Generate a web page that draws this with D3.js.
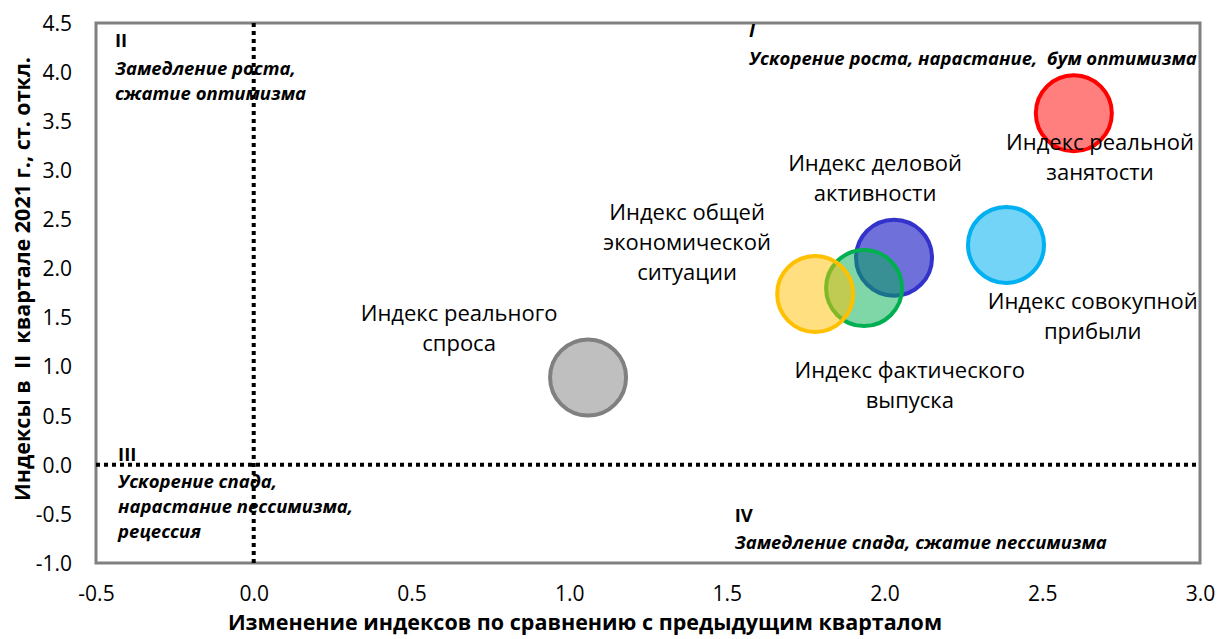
<!DOCTYPE html>
<html>
<head>
<meta charset="utf-8">
<script src="https://cdn.jsdelivr.net/npm/d3@7"></script>
<style>
  body { margin: 0; background: #fff; }
  text { font-family: "Open Sans", "Noto Sans", sans-serif; }
</style>
</head>
<body>
<svg id="chart" width="1227" height="639"></svg>
<script>
// Bubble data
const names = [
  ["Индекс реального", "спроса"],
  ["Индекс общей", "экономической", "ситуации"],
  ["Индекс деловой", "активности"],
  ["Индекс фактического", "выпуска"],
  ["Индекс совокупной", "прибыли"],
  ["Индекс реальной", "занятости"]
];
const xValues = [1.06, 1.78, 2.03, 1.935, 2.385, 2.60];
const yValues = [0.89, 1.74, 2.11, 1.80, 2.24, 3.58];
const strokeColors = ["#808080", "#FFC000", "#3333CC", "#00B050", "#00B0F0", "#FF0000"];
const fillOpacity = [0.5, 0.5, 0.7, 0.5, 0.55, 0.5];
// draw order (blue under green under yellow)
const drawOrder = [0, 2, 3, 1, 4, 5];
// label anchors in data units (centre of first line)
const labelX = [0.651, 1.374, 1.97, 2.08, 2.66, 2.683];
const labelY = [1.54, 2.567, 3.075, 0.961, 1.663, 3.289];

const xTicks = [-0.5, 0.0, 0.5, 1.0, 1.5, 2.0, 2.5, 3.0];
const yTicks = [-1.0, -0.5, 0.0, 0.5, 1.0, 1.5, 2.0, 2.5, 3.0, 3.5, 4.0, 4.5];

const svg = d3.select("#chart");
const margin = { top: 23, right: 27, bottom: 76, left: 96 };
const width = 1227 - margin.left - margin.right;
const height = 639 - margin.top - margin.bottom;

const x = d3.scaleLinear().domain([-0.5, 3.0]).range([0, width]);
const y = d3.scaleLinear().domain([-1.0, 4.5]).range([height, 0]);

// plain hyphen for negatives, like the original
const fmt = d => d.toFixed(1);

const g = svg.append("g").attr("transform", `translate(${margin.left},${margin.top})`);

// Plot border
g.append("rect")
  .attr("x", 0).attr("y", 0)
  .attr("width", width).attr("height", height)
  .attr("fill", "none")
  .attr("stroke", "#808080")
  .attr("stroke-width", 3);

// Dotted zero lines
g.append("line")
  .attr("x1", 0).attr("x2", width)
  .attr("y1", y(0)).attr("y2", y(0))
  .attr("stroke", "#000").attr("stroke-width", 4)
  .attr("stroke-dasharray", "4,4");
g.append("line")
  .attr("x1", x(0)).attr("x2", x(0))
  .attr("y1", 0).attr("y2", height)
  .attr("stroke", "#000").attr("stroke-width", 4)
  .attr("stroke-dasharray", "4,4");

// Axes
const xAxis = g.append("g")
  .attr("transform", `translate(0,${height})`)
  .call(d3.axisBottom(x).tickValues(xTicks).tickFormat(fmt).tickSize(0).tickPadding(23));
const yAxis = g.append("g")
  .call(d3.axisLeft(y).tickValues(yTicks).tickFormat(fmt).tickSize(0).tickPadding(24));
[xAxis, yAxis].forEach(a => {
  a.select(".domain").remove();
  a.selectAll("text")
    .style("font-size", "21px")
    .style("fill", "#000")
    .style("font-family", "'Open Sans', sans-serif");
});
yAxis.selectAll("text").attr("dy", "0.35em");

// Quadrant notes
const notes = [
  { lines: ["II"], x: -0.44, y: 4.32, italic: false },
  { lines: ["Замедление роста,", "сжатие оптимизма"], x: -0.44, y: 4.04, italic: true },
  { lines: ["I"], x: 1.57, y: 4.42, italic: true },
  { lines: ["Ускорение роста, нарастание,  бум оптимизма"], x: 1.57, y: 4.14, italic: true },
  { lines: ["III"], x: -0.43, y: 0.1, italic: false },
  { lines: ["Ускорение спада,", "нарастание пессимизма,", "рецессия"], x: -0.43, y: -0.17, italic: true },
  { lines: ["IV"], x: 1.525, y: -0.52, italic: false },
  { lines: ["Замедление спада, сжатие пессимизма"], x: 1.525, y: -0.79, italic: true }
];
notes.forEach(n => {
  const t = g.append("text")
    .attr("x", x(n.x))
    .attr("y", y(n.y))
    .style("font-size", "18.5px")
    .style("font-weight", "bold")
    .style("font-style", n.italic ? "italic" : "normal")
    .attr("xml:space", "preserve");
  n.lines.forEach((l, i) => {
    t.append("tspan").attr("x", x(n.x)).attr("dy", i === 0 ? "0.35em" : "25px").text(l);
  });
});

// Bubbles
g.selectAll(".bubble")
  .data(drawOrder)
  .enter()
  .append("circle")
  .attr("class", "bubble")
  .attr("cx", i => x(xValues[i]))
  .attr("cy", i => y(yValues[i]))
  .attr("r", 38)
  .attr("fill", i => strokeColors[i])
  .attr("fill-opacity", i => fillOpacity[i])
  .attr("stroke", i => strokeColors[i])
  .attr("stroke-width", 4);

// Bubble labels
names.forEach((lines, i) => {
  const t = g.append("text")
    .attr("text-anchor", "middle")
    .attr("x", x(labelX[i]))
    .attr("y", y(labelY[i]))
    .style("font-size", "22px")
    .style("fill", "#000");
  lines.forEach((l, k) => {
    t.append("tspan")
      .attr("x", x(labelX[i]))
      .attr("dy", k === 0 ? "0.35em" : "30px")
      .text(l);
  });
});

// Axis titles
svg.append("text")
  .attr("x", 585)
  .attr("y", 622)
  .attr("dy", "0.35em")
  .attr("text-anchor", "middle")
  .style("font-size", "21.5px")
  .style("font-weight", "bold")
  .text("Изменение индексов по сравнению с предыдущим кварталом");

svg.append("text")
  .attr("transform", "translate(22,279) rotate(-90)")
  .attr("dy", "0.35em")
  .attr("text-anchor", "middle")
  .style("font-size", "21.5px")
  .style("font-weight", "bold")
  .attr("xml:space", "preserve")
  .text("Индексы в  II  квартале 2021 г., ст. откл.");
</script>
</body>
</html>
